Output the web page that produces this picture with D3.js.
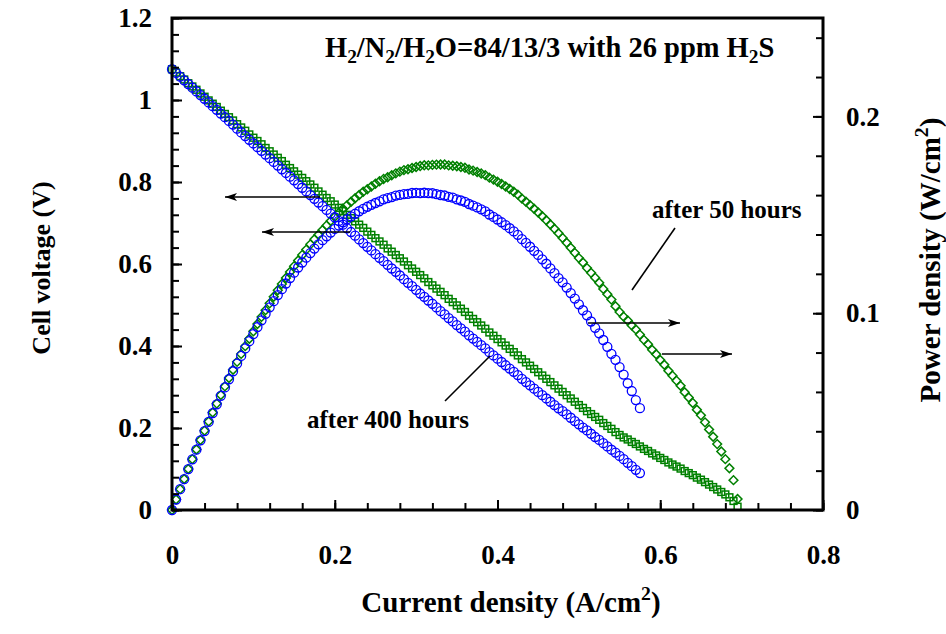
<!DOCTYPE html>
<html><head><meta charset="utf-8">
<script src="https://cdn.jsdelivr.net/npm/d3@7/dist/d3.min.js"></script>
<style>body{margin:0;background:#fff}svg{display:block}text{font-family:"Liberation Serif","Times New Roman",serif;font-weight:bold}</style>
</head><body><svg id="c" width="946" height="634"></svg>
<script>
// current density (A/cm2), shared measurement grid
const currentDensity = [0,0.005,0.01,0.015,0.02,0.025,0.03,0.035,0.04,0.045,0.05,0.055,0.06,0.065,0.07,0.075,0.08,0.085,0.09,0.095,
0.1,0.105,0.11,0.115,0.12,0.125,0.13,0.135,0.14,0.145,0.15,0.155,0.16,0.165,0.17,0.175,0.18,0.185,0.19,0.195,
0.2,0.205,0.21,0.215,0.22,0.225,0.23,0.235,0.24,0.245,0.25,0.255,0.26,0.265,0.27,0.275,0.28,0.285,0.29,0.295,
0.3,0.305,0.31,0.315,0.32,0.325,0.33,0.335,0.34,0.345,0.35,0.355,0.36,0.365,0.37,0.375,0.38,0.385,0.39,0.395,
0.4,0.405,0.41,0.415,0.42,0.425,0.43,0.435,0.44,0.445,0.45,0.455,0.46,0.465,0.47,0.475,0.48,0.485,0.49,0.495,
0.5,0.505,0.51,0.515,0.52,0.525,0.53,0.535,0.54,0.545,0.55,0.555,0.56,0.565,0.57,0.575,0.58,0.585,0.59,0.595,
0.6,0.605,0.61,0.615,0.62,0.625,0.63,0.635,0.64,0.645,0.65,0.655,0.66,0.665,0.67,0.675,0.68,0.685,0.69,0.695];
// cell voltage (V) after 50 hours
const voltage50h = [1.075,1.067,1.058,1.050,1.041,1.033,1.025,1.016,1.008,0.999,
0.991,0.983,0.974,0.966,0.958,0.950,0.941,0.933,0.925,0.916,
0.908,0.900,0.892,0.883,0.875,0.867,0.859,0.851,0.842,0.834,
0.826,0.818,0.810,0.802,0.794,0.786,0.777,0.769,0.761,0.753,
0.745,0.737,0.729,0.720,0.712,0.704,0.696,0.688,0.679,0.671,
0.663,0.655,0.647,0.638,0.630,0.622,0.614,0.606,0.597,0.589,
0.581,0.573,0.565,0.556,0.548,0.540,0.532,0.524,0.515,0.507,
0.499,0.491,0.483,0.474,0.466,0.458,0.450,0.442,0.433,0.425,
0.417,0.409,0.401,0.393,0.385,0.377,0.368,0.360,0.352,0.344,
0.336,0.328,0.320,0.312,0.304,0.296,0.288,0.280,0.272,0.264,
0.256,0.249,0.241,0.234,0.227,0.220,0.212,0.205,0.198,0.190,
0.183,0.177,0.172,0.166,0.161,0.155,0.149,0.144,0.138,0.133,
0.127,0.122,0.116,0.111,0.106,0.101,0.095,0.090,0.085,0.079,
0.074,0.068,0.062,0.056,0.050,0.044,0.038,0.031,0.022,0.008];
// cell voltage (V) after 400 hours
const voltage400h = [1.075,1.066,1.057,1.048,1.039,1.030,1.021,1.012,1.003,0.994,
0.985,0.976,0.967,0.958,0.949,0.940,0.930,0.921,0.912,0.903,
0.894,0.885,0.876,0.867,0.858,0.849,0.840,0.831,0.822,0.813,
0.804,0.795,0.786,0.777,0.768,0.759,0.750,0.741,0.732,0.723,
0.714,0.705,0.696,0.687,0.678,0.669,0.660,0.651,0.642,0.633,
0.624,0.615,0.607,0.598,0.589,0.581,0.572,0.563,0.554,0.546,
0.537,0.528,0.520,0.511,0.503,0.494,0.485,0.477,0.468,0.460,
0.451,0.443,0.435,0.426,0.418,0.410,0.402,0.394,0.385,0.377,
0.369,0.361,0.353,0.345,0.337,0.329,0.320,0.312,0.304,0.296,
0.288,0.280,0.272,0.264,0.256,0.248,0.241,0.233,0.225,0.217,
0.209,0.201,0.194,0.186,0.178,0.171,0.163,0.155,0.147,0.140,
0.132,0.124,0.115,0.107,0.098,0.090];
const xTicks = [0,0.2,0.4,0.6,0.8];
const xTickLabels = ["0","0.2","0.4","0.6","0.8"];
const yLeftTicks = [0,0.2,0.4,0.6,0.8,1,1.2];
const yLeftTickLabels = ["0","0.2","0.4","0.6","0.8","1","1.2"];
const yRightTicks = [0,0.1,0.2];
const yRightTickLabels = ["0","0.1","0.2"];

// power density = current density x cell voltage (measured pairs)
const s50 = voltage50h.map((v,i)=>({j:currentDensity[i], v:v, p:currentDensity[i]*v}));
const s400 = voltage400h.map((v,i)=>({j:currentDensity[i], v:v, p:currentDensity[i]*v}));

const svg = d3.select("#c");
const L=172, R=823, T=18, B=510;
const x = d3.scaleLinear().domain([0,0.8]).range([L,R]);
const yL = d3.scaleLinear().domain([0,1.2]).range([B,T]);
const yR = d3.scaleLinear().domain([0,0.25]).range([B,T]);
const FS = 27;
const green="#008000", blue="#0000ff";

const g = svg.append("g");
g.selectAll("rect.gv").data(s50).enter().append("rect")
  .attr("x",d=>x(d.j)-3.4).attr("y",d=>yL(d.v)-3.4).attr("width",6.8).attr("height",6.8)
  .attr("fill","none").attr("stroke",green).attr("stroke-width",1.5);
g.selectAll("rect.gp").data(s50).enter().append("rect")
  .attr("x",-3.1).attr("y",-3.1).attr("width",6.2).attr("height",6.2)
  .attr("transform",d=>`translate(${x(d.j)},${yR(d.p)}) rotate(45)`)
  .attr("fill","none").attr("stroke",green).attr("stroke-width",1.5);
g.selectAll("circle.bv").data(s400).enter().append("circle")
  .attr("cx",d=>x(d.j)).attr("cy",d=>yL(d.v)).attr("r",4.5)
  .attr("fill","none").attr("stroke",blue).attr("stroke-width",1.3);
g.selectAll("circle.bp").data(s400).enter().append("circle")
  .attr("cx",d=>x(d.j)).attr("cy",d=>yR(d.p)).attr("r",4.5)
  .attr("fill","none").attr("stroke",blue).attr("stroke-width",1.3);

function styleAxis(sel){
  sel.select(".domain").remove();
  sel.selectAll("line").attr("stroke","#000").attr("stroke-width",2);
  sel.selectAll("text").attr("font-size",FS).attr("fill","#000")
     .attr("font-family","Liberation Serif, Times New Roman, serif").attr("font-weight","bold");
}
const minorX = d3.range(0,0.801,0.04), minorYL = d3.range(0,1.201,0.04), minorYR = d3.range(0,0.2501,0.02);
svg.append("g").attr("transform",`translate(0,${B})`)
  .call(d3.axisBottom(x).tickValues(minorX).tickSize(-7).tickFormat("")).call(styleAxis);
svg.append("g").attr("transform",`translate(0,${B})`)
  .call(d3.axisBottom(x).tickValues(xTicks).tickSize(-10).tickPadding(35).tickFormat((d,i)=>xTickLabels[i])).call(styleAxis);
svg.append("g").attr("transform",`translate(${L},0)`)
  .call(d3.axisLeft(yL).tickValues(minorYL).tickSize(-7).tickFormat("")).call(styleAxis);
svg.append("g").attr("transform",`translate(${L},0)`)
  .call(d3.axisLeft(yL).tickValues(yLeftTicks).tickSize(-10).tickPadding(20).tickFormat((d,i)=>yLeftTickLabels[i])).call(styleAxis);
svg.append("g").attr("transform",`translate(${R},0)`)
  .call(d3.axisRight(yR).tickValues(minorYR).tickSize(-7).tickFormat("")).call(styleAxis);
svg.append("g").attr("transform",`translate(${R},0)`)
  .call(d3.axisRight(yR).tickValues(yRightTicks).tickSize(-10).tickPadding(23).tickFormat((d,i)=>yRightTickLabels[i])).call(styleAxis);

svg.append("rect").attr("x",L).attr("y",T).attr("width",R-L).attr("height",B-T)
  .attr("fill","none").attr("stroke","#000").attr("stroke-width",3);

svg.append("defs").append("marker").attr("id","ah").attr("viewBox","0 0 12 8")
  .attr("refX",12).attr("refY",4).attr("markerWidth",12).attr("markerHeight",8)
  .attr("markerUnits","userSpaceOnUse").attr("orient","auto")
  .append("path").attr("d","M0,0 L12,4 L0,8 L3,4 Z").attr("fill","#000");
const arrows = [[320,197,225,197],[350,232,262,232],[588,323,680,323],[662,354,732,354]];
arrows.forEach(a=>svg.append("line").attr("x1",a[0]).attr("y1",a[1]).attr("x2",a[2]).attr("y2",a[3])
  .attr("stroke","#000").attr("stroke-width",1.6).attr("marker-end","url(#ah)"));
svg.append("line").attr("x1",445).attr("y1",401).attr("x2",490).attr("y2",356).attr("stroke","#000").attr("stroke-width",1.6);
svg.append("line").attr("x1",675).attr("y1",228).attr("x2",632).attr("y2",290).attr("stroke","#000").attr("stroke-width",1.6);

function txt(xp,yp,parts,fs,rot,anchor){
  const t = svg.append("text").attr("font-size",fs).attr("fill","#000");
  if(rot) t.attr("transform",`translate(${xp},${yp}) rotate(-90)`).attr("text-anchor","middle");
  else t.attr("x",xp).attr("y",yp).attr("text-anchor",anchor||"start");
  parts.forEach(p=>{
    const ts=t.append("tspan").text(p[0]);
    if(p[1]==="sub") ts.attr("font-size",fs*0.68).attr("dy",fs*0.22);
    if(p[1]==="sup") ts.attr("font-size",fs*0.68).attr("dy",-fs*0.42);
    if(p[1]==="subr") ts.attr("dy",-fs*0.22);
    if(p[1]==="supr") ts.attr("dy",fs*0.42);
  });
  return t;
}
txt(325,57,[["H"],["2","sub"],["/N","subr"],["2","sub"],["/H","subr"],["2","sub"],["O=84/13/3 with 26 ppm H","subr"],["2","sub"],["S","subr"]],28.5);
txt(307,428,[["after 400 hours"]],25);
txt(652,218,[["after 50 hours"]],25);
txt(511,612,[["Current density (A/cm"],["2","sup"],[")","supr"]],29,false,"middle");
txt(50,268,[["Cell voltage (V)"]],26,true);
txt(940,260,[["Power density (W/cm"],["2","sup"],[")","supr"]],29,true);
</script></body></html>
